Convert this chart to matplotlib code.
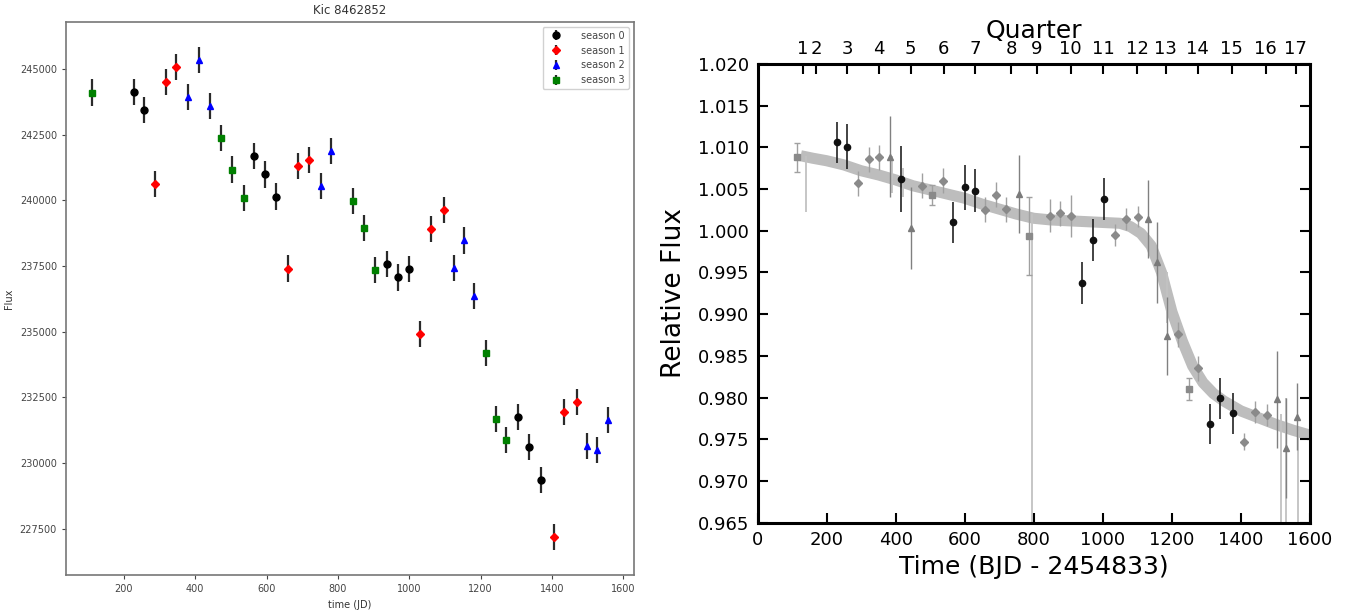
import numpy as np
import matplotlib
matplotlib.use('Agg')
import matplotlib.pyplot as plt

# ---- left panel: flux per season ----
s0_t = [228, 256, 565, 596, 627, 936, 968, 1000, 1304, 1336, 1370]
s0_f = [244140, 243450, 241690, 240990, 240150, 237590, 237070, 237400, 231750, 230620, 229350]
s1_t = [288, 318, 347, 659, 688, 719, 1031, 1062, 1097, 1404, 1434, 1470]
s1_f = [240640, 244500, 245090, 237410, 241300, 241540, 234930, 238920, 239630, 227200, 231950, 232320]
s2_t = [381, 411, 440, 751, 781, 1124, 1153, 1182, 1499, 1526, 1557]
s2_f = [243940, 245340, 243610, 240560, 241890, 237440, 238480, 236360, 230640, 230500, 231640]
s3_t = [110, 473, 502, 536, 843, 873, 905, 1214, 1243, 1272]
s3_f = [244110, 242380, 241180, 240090, 239970, 238940, 237350, 234190, 231690, 230890]
flux_err = 500

# ---- right panel: relative flux ----
lc_t = [125, 160, 200, 250, 300, 350, 400, 450, 500, 550, 600, 650, 700, 750, 800, 850,
        900, 950, 1000, 1050, 1080, 1110, 1140, 1170, 1200, 1230, 1260, 1290, 1320,
        1350, 1400, 1450, 1500, 1550, 1600]
lc_f = [1.0090, 1.0087, 1.0084, 1.0079, 1.0072, 1.0067, 1.0061, 1.0054, 1.0049, 1.0044,
        1.0039, 1.0032, 1.0026, 1.0020, 1.0015, 1.0013, 1.0012, 1.0011, 1.0010, 1.0009,
        1.0005, 0.9997, 0.9982, 0.9950, 0.9903, 0.9868, 0.9838, 0.9818, 0.9805,
        0.9796, 0.9784, 0.9776, 0.9768, 0.9761, 0.9755]

spike_t = [140, 390, 420, 794, 1185, 1516, 1531, 1566]
spike_lo = [1.0022, 1.0045, 1.0040, 0.9600, 0.9890, 0.9600, 0.9600, 0.9600]
spike_hi = [1.0090, 1.0090, 1.0075, 1.0020, 0.9950, 0.9780, 0.9800, 0.9760]

blk_t = [231, 259, 415, 567, 600, 631, 940, 971, 1003, 1309, 1340, 1376]
blk_f = [1.0106, 1.0101, 1.0062, 1.0010, 1.0052, 1.0048, 0.9937, 0.9989, 1.0038, 0.9768, 0.9799, 0.9781]
blk_e = [0.0025, 0.0027, 0.0040, 0.0025, 0.0027, 0.0026, 0.0025, 0.0025, 0.0025, 0.0024, 0.0025, 0.0025]

dia_t = [292, 322, 351, 477, 538, 659, 691, 720, 848, 877, 907, 1036, 1066, 1103, 1218, 1277, 1410, 1440, 1475]
dia_f = [1.0057, 1.0086, 1.0088, 1.0054, 1.0060, 1.0025, 1.0043, 1.0026, 1.0018, 1.0021, 1.0018,
         0.9995, 1.0014, 1.0017, 0.9876, 0.9835, 0.9747, 0.9783, 0.9779]
dia_e = [0.0015, 0.0015, 0.0015, 0.0015, 0.0015, 0.0015, 0.0015, 0.0015, 0.0020, 0.0015, 0.0025,
         0.0013, 0.0013, 0.0013, 0.0015, 0.0015, 0.0010, 0.0013, 0.0013]

tri_t = [385, 444, 756, 1130, 1158, 1186, 1504, 1531, 1562]
tri_f = [1.0089, 1.0003, 1.0044, 1.0014, 0.9962, 0.9874, 0.9798, 0.9740, 0.9777]
tri_e = [0.0049, 0.0049, 0.0047, 0.0047, 0.0048, 0.0047, 0.0058, 0.0060, 0.0040]

sq_t = [113, 506, 787, 1249]
sq_f = [1.0088, 1.0043, 0.9994, 0.9810]
sq_e = [0.0017, 0.0012, 0.0047, 0.0013]

quarter_t = [131.5, 169.8, 260.2, 352.4, 443.5, 539.5, 630.2, 735.4, 808.5, 906.8,
             1001.2, 1099.4, 1182.0, 1274.2, 1373.5, 1472.2, 1559.2]
quarter_lab = [str(q) for q in range(1, 18)]


def left_panel(fig):
    ax = fig.add_axes([0.0487, 0.0574, 0.4195, 0.9066])
    seasons = [(s0_t, s0_f, 'ko', 5, 'season 0'),
               (s1_t, s1_f, 'rD', 4.5, 'season 1'),
               (s2_t, s2_f, 'b^', 5, 'season 2'),
               (s3_t, s3_f, 'gs', 5, 'season 3')]
    for t, f, fmt, ms, lab in seasons:
        ax.errorbar(t, f, yerr=flux_err, fmt=fmt, ms=ms, ecolor='#2a2a2a',
                    elinewidth=1.6, capsize=0, label=lab)
    ax.set_title('Kic 8462852', fontsize=8.5, color='#333333')
    ax.set_xlabel('time (JD)', fontsize=7, color='#333333')
    ax.set_ylabel('Flux', fontsize=7, color='#333333')
    ax.tick_params(labelsize=7, colors='#444444', length=3)
    ax.set_xticks([200, 400, 600, 800, 1000, 1200, 1400, 1600])
    ax.set_yticks([227500, 230000, 232500, 235000, 237500, 240000, 242500, 245000])
    for s in ax.spines.values():
        s.set_color('#777777')
        s.set_linewidth(1.2)
    ax.legend(loc='upper right', fontsize=7, labelcolor='#444444', framealpha=0.9,
              handletextpad=1.6)


def right_panel(fig):
    ax = fig.add_axes([0.5595, 0.1431, 0.408, 0.752])
    ax.plot(lc_t, lc_f, color='#bdbdbd', lw=8, solid_capstyle='butt', zorder=1)
    ax.vlines(spike_t, spike_lo, spike_hi, color='#c2c2c2', lw=1.3, zorder=1)
    ax.errorbar(sq_t, sq_f, yerr=sq_e, fmt='s', color='#8a8a8a', ms=5, ecolor='#a0a0a0',
                elinewidth=1, capsize=2, zorder=2)
    ax.errorbar(dia_t, dia_f, yerr=dia_e, fmt='D', color='#8a8a8a', ms=4.5, ecolor='#a0a0a0',
                elinewidth=1, capsize=0, zorder=2)
    ax.errorbar(tri_t, tri_f, yerr=tri_e, fmt='^', color='#7a7a7a', ms=4.5, ecolor='#808080',
                elinewidth=1, capsize=0, zorder=2)
    ax.errorbar(blk_t, blk_f, yerr=blk_e, fmt='o', color='#111111', ms=4.5, ecolor='#222222',
                elinewidth=1.2, capsize=0, zorder=3)
    ax.set_xlim(0, 1600)
    ax.set_ylim(0.965, 1.020)
    ax.set_xticks(np.arange(0, 1601, 200))
    ax.set_yticks(np.arange(0.965, 1.0201, 0.005))
    ax.yaxis.set_major_formatter(matplotlib.ticker.FormatStrFormatter('%.3f'))
    ax.tick_params(direction='in', length=7, width=1.5, labelsize=13,
                   right=True, top=False, pad=6)
    ax.set_xlabel('Time (BJD - 2454833)', fontsize=18)
    ax.set_ylabel('Relative Flux', fontsize=19, labelpad=8)
    for s in ax.spines.values():
        s.set_linewidth(2.2)
    top = ax.twiny()
    top.set_xlim(0, 1600)
    top.set_xticks(quarter_t)
    top.set_xticklabels(quarter_lab)
    top.tick_params(direction='in', length=7, width=1.5, labelsize=13, pad=4)
    top.set_xlabel('Quarter', fontsize=18, labelpad=2)


def main():
    fig = plt.figure(figsize=(13.54, 6.10), dpi=100)
    left_panel(fig)
    right_panel(fig)
    fig.savefig('out.png', dpi=100)


if __name__ == "__main__":
    main()
